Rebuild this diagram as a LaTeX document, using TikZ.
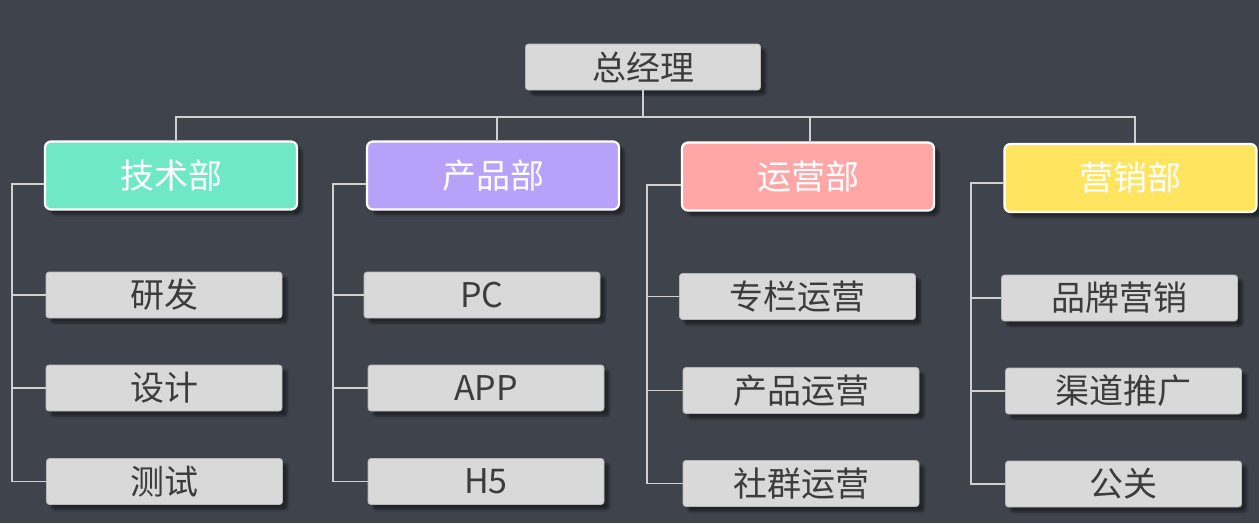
\documentclass[tikz,border=0pt]{standalone}
\usepackage{fontspec}
\setmainfont{Noto Sans CJK SC}
\usetikzlibrary{shadows.blur}
\definecolor{boardbg}{HTML}{3F434C}
\definecolor{leafbg}{HTML}{D9D9D9}
\definecolor{leafline}{HTML}{B8B8B8}
\definecolor{leaftext}{HTML}{3C3C3C}
\definecolor{linkgray}{HTML}{D0D0D0}
\definecolor{techgreen}{HTML}{6EE8C6}
\definecolor{prodpurple}{HTML}{B7A1F9}
\definecolor{opspink}{HTML}{FFA6A6}
\definecolor{salesyellow}{HTML}{FFE45F}

\begin{document}
\begin{tikzpicture}[
  x=1pt, y=-1pt, font=\fontsize{34}{40}\selectfont,
  leaf/.style={draw=leafline, line width=0.8pt, rounded corners=3pt,
    fill=leafbg, text=leaftext, minimum width=236pt, minimum height=46pt,
    inner sep=0pt, blur shadow={shadow xshift=5pt, shadow yshift=-5pt,
    shadow opacity=45, shadow blur steps=6}},
  dept/.style={draw=white, line width=2.2pt, rounded corners=6pt,
    text=white, minimum width=252pt, minimum height=68pt, inner sep=0pt,
    blur shadow={shadow xshift=5pt, shadow yshift=-5pt,
    shadow opacity=45, shadow blur steps=6}},
  link/.style={draw=linkgray, line width=1.6pt},
]
\fill[boardbg] (0,0) rectangle (1259,523);
\useasboundingbox (0,0) rectangle (1259,523);

% top
\node[leaf, minimum width=235pt] (ceo) at (643,67) {总经理};
\coordinate (bus) at (643,117);

% departments
\node[dept, fill=techgreen]   (tech)  at (171,175.5) {技术部};
\node[dept, fill=prodpurple]  (prod)  at (493,175.5) {产品部};
\node[dept, fill=opspink]     (ops)   at (808,176.5) {运营部};
\node[dept, fill=salesyellow] (sales) at (1130.5,178) {营销部};

% teams
\node[leaf] (dev)    at (164,295)    {研发};
\node[leaf] (design) at (164,388)    {设计};
\node[leaf] (test)   at (164.5,481.5) {测试};
\node[leaf] (pc)     at (482,295)    {PC};
\node[leaf] (app)    at (486,388)    {APP};
\node[leaf] (hfive)  at (486,481.5)  {H5};
\node[leaf] (column) at (797.5,296.5) {专栏运营};
\node[leaf] (prodop) at (801,390.5)  {产品运营};
\node[leaf] (group)  at (801,483.5)  {社群运营};
\node[leaf] (brand)  at (1119.5,298) {品牌营销};
\node[leaf] (channel) at (1123.5,391) {渠道推广};
\node[leaf] (pr)     at (1123.5,484) {公关};

% rails
\coordinate (techrail)  at (12,184);
\coordinate (prodrail)  at (333,184);
\coordinate (opsrail)   at (647,185);
\coordinate (salesrail) at (971,183);

\draw[link] (ceo) -- (bus);
\draw[link] ([xshift=5pt]tech.north) |- (bus) -| ([xshift=4.5pt]sales.north);
\draw[link] ([xshift=4pt]prod.north) -- ([xshift=4pt]prod.north |- bus);
\draw[link] ([xshift=2pt]ops.north) -- ([xshift=2pt]ops.north |- bus);

\draw[link] (tech.west |- techrail) -- (techrail) |- (test.west);
\draw[link] (techrail |- dev.west) -- (dev.west);
\draw[link] (techrail |- design.west) -- (design.west);

\draw[link] (prod.west |- prodrail) -- (prodrail) |- (hfive.west);
\draw[link] (prodrail |- pc.west) -- (pc.west);
\draw[link] (prodrail |- app.west) -- (app.west);

\draw[link] (ops.west |- opsrail) -- (opsrail) |- (group.west);
\draw[link] (opsrail |- column.west) -- (column.west);
\draw[link] (opsrail |- prodop.west) -- (prodop.west);

\draw[link] (sales.west |- salesrail) -- (salesrail) |- (pr.west);
\draw[link] (salesrail |- brand.west) -- (brand.west);
\draw[link] (salesrail |- channel.west) -- (channel.west);
\end{tikzpicture}
\end{document}
